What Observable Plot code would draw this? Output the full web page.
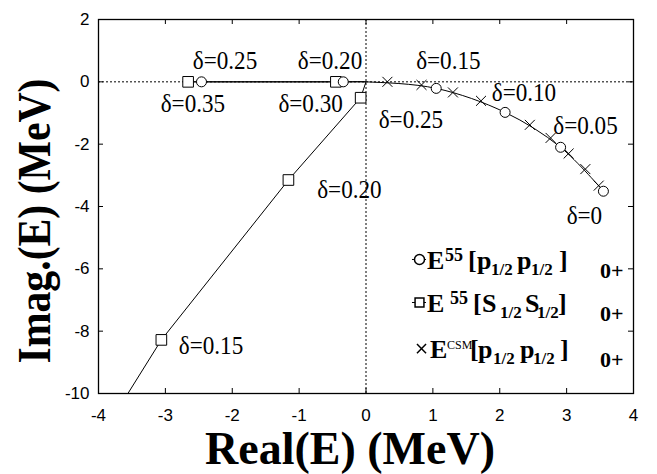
<!DOCTYPE html>
<html><head><meta charset="utf-8">
<script src="https://cdn.jsdelivr.net/npm/d3@7"></script>
<script src="https://cdn.jsdelivr.net/npm/@observablehq/plot@0.6"></script>
<style>body{margin:0;background:#fff}</style>
</head><body><div id="chart"></div>
<script>
// ---- data ----
const xTicks = [-4,-3,-2,-1,0,1,2,3,4];
const yTicks = [-10,-8,-6,-4,-2,0,2];

// E55 [p1/2 p1/2]0+ poles (circles), delta = 0.25 ... 0
const pDelta = [0.25,0.20,0.15,0.10,0.05,0];
const pRe = [-2.46,-0.34,1.05,2.08,2.91,3.55];
const pIm = [0,0,-0.21,-0.98,-2.10,-3.51];
const pLineRe = [-2.46,-0.34,0,1.05,2.08,2.91,3.55];
const pLineIm = [0,0,0,-0.21,-0.98,-2.10,-3.51];

// E55 [s1/2 s1/2]0+ poles (squares), delta = 0.35 ... 0.15
const sDelta = [0.35,0.30,0.25,0.20,0.15];
const sRe = [-2.66,-0.45,-0.08,-1.16,-3.06];
const sIm = [0,0,-0.51,-3.15,-8.28];
const sLineRe = [-2.66,-0.45,0,-0.08,-1.16,-3.06,-3.56];
const sLineIm = [0,0,0,-0.51,-3.15,-8.28,-10];

// ECSM [p1/2 p1/2]0+ (crosses)
const cRe = [0.32,0.83,1.30,1.72,2.45,2.76,3.03,3.28,3.48];
const cIm = [0,-0.10,-0.34,-0.61,-1.38,-1.80,-2.30,-2.80,-3.33];

// annotations
const labText = ["δ=0.25","δ=0.20","δ=0.35","δ=0.30","δ=0.25","δ=0.15","δ=0.10","δ=0.05","δ=0","δ=0.20","δ=0.15"];
const labRe  = [-2.59,-1.02,-3.07,-1.31,0.19,0.75,1.88,2.80,3.00,-0.73,-2.80];
const labIm  = [0.42,0.42,-0.96,-0.96,-1.47,0.42,-0.61,-1.67,-4.55,-3.72,-8.72];

// legend
const legendRe = [0.80,0.80,0.83];
const legendIm = [-5.70,-7.08,-8.56];
const legendRows = [
  [["E","main",0],["55","sup",18],["[","main",41],["p","main",50],["1/2","sub",64],["p","main",90],["1/2","sub",104],["]","main",132],["0+","sub0",173]],
  [["E","main",0],["55","sup",23],["[","main",46],["S","main",55],["1/2","sub",73],["S","main",98],["1/2","sub",110],["]","main",131],["0+","sub0",173]],
  [["E","main",0],["CSM","csm",17],["[","main",40],["p","main",48],["1/2","sub",63],["p","main",90],["1/2","sub",103],["]","main",130],["0+","sub0",170]]
];
const xLabel = "Real(E) (MeV)";
const yLabel = "Imag.(E) (MeV)";

// ---- layout ----
const W = 657, H = 474, mL = 98, mR = 24, mT = 19, mB = 81;
const innerW = W - mL - mR, innerH = H - mT - mB;
const serif = "'Liberation Serif','Times New Roman',serif";

const pts = (xs, ys) => xs.map((x, i) => ({x, y: ys[i]}));
const inner = xTicks.filter(t => t > -4 && t < 4);
const innerY = yTicks.filter(t => t > -10 && t < 2);
const fmt = d => String(d);

const plot = Plot.plot({
  width: W, height: H,
  marginLeft: mL, marginRight: mR, marginTop: mT, marginBottom: mB,
  style: {fontFamily: "'Liberation Sans',Arial,sans-serif", fontSize: "17px", color: "black", background: "white", overflow: "visible"},
  x: {domain: [-4, 4], label: null},
  y: {domain: [-10, 2], label: null},
  marks: [
    Plot.ruleY([0], {stroke: "black", strokeWidth: 1, strokeDasharray: "2,2"}),
    Plot.ruleX([0], {stroke: "black", strokeWidth: 1, strokeDasharray: "2,2"}),
    Plot.line(pts(sLineRe, sLineIm), {x: "x", y: "y", stroke: "black", strokeWidth: 1, clip: true}),
    Plot.line(pts(pLineRe, pLineIm), {x: "x", y: "y", stroke: "black", strokeWidth: 1, curve: "catmull-rom"}),
    Plot.dot(pts(cRe, cIm), {x: "x", y: "y", symbol: "times", r: 4.6, stroke: "black", strokeWidth: 1}),
    Plot.dot(pts(sRe, sIm), {x: "x", y: "y", symbol: "square", r: 6, stroke: "black", fill: "white", strokeWidth: 1}),
    Plot.dot(pts(pRe, pIm), {x: "x", y: "y", symbol: "circle", r: 5, stroke: "black", fill: "white", strokeWidth: 1}),
    Plot.text(labText.map((t, i) => ({t, x: labRe[i], y: labIm[i]})), {
      x: "x", y: "y", text: "t", textAnchor: "start", lineAnchor: "bottom",
      fontSize: 26, fill: "black"
    }),
    // legend symbols
    Plot.ruleY([0, 1].map(i => ({y: legendIm[i], x1: legendRe[i] - 0.105, x2: legendRe[i] + 0.105})), {y: "y", x1: "x1", x2: "x2", stroke: "black", strokeWidth: 1}),
    Plot.dot([{x: legendRe[0], y: legendIm[0]}], {x: "x", y: "y", symbol: "circle", r: 5, stroke: "black", fill: "white"}),
    Plot.dot([{x: legendRe[1], y: legendIm[1]}], {x: "x", y: "y", symbol: "square", r: 5, stroke: "black", fill: "white"}),
    Plot.dot([{x: legendRe[2], y: legendIm[2]}], {x: "x", y: "y", symbol: "times", r: 4.2, stroke: "black"}),
    Plot.frame({stroke: "black", strokeWidth: 1.3}),
    // inward ticks on all four sides
    Plot.tickX(inner, {x: d => d, insetTop: innerH - 5, stroke: "black"}),
    Plot.tickX(inner, {x: d => d, insetBottom: innerH - 5, stroke: "black"}),
    Plot.tickY(innerY, {y: d => d, insetRight: innerW - 5, stroke: "black"}),
    Plot.tickY(innerY, {y: d => d, insetLeft: innerW - 5, stroke: "black"}),
    Plot.axisX(xTicks, {tickSize: 0, tickPadding: 15, label: null, fontSize: 17, tickFormat: fmt}),
    Plot.axisY(yTicks, {tickSize: 0, tickPadding: 9, label: null, fontSize: 17, tickFormat: fmt})
  ]
});

document.getElementById("chart").appendChild(plot);

const svg = d3.select(plot);
// serif face, slightly condensed, for the delta annotations
svg.selectAll("text").filter(function() { return this.textContent.startsWith("δ"); })
  .style("font-family", serif).style("font-size", "26px")
  .each(function() {
    const w = this.getComputedTextLength();
    if (w > 0) d3.select(this).attr("textLength", w * 0.89).attr("lengthAdjust", "spacingAndGlyphs");
  });

// ---- legend text & axis titles ----
const sx = plot.scale("x"), sy = plot.scale("y");
const roles = {
  main: {size: 26, dy: 0, weight: "bold"},
  sup: {size: 18, dy: -8, weight: "bold"},
  sub: {size: 17, dy: 6, weight: "bold"},
  sub0: {size: 22, dy: 9, weight: "bold"},
  csm: {size: 12, dy: -9, weight: "normal"}
};
legendRows.forEach((row, i) => {
  const x0 = sx.apply(legendRe[i]) + (i === 2 ? 9 : 8);
  const y0 = sy.apply(legendIm[i]) + 10;
  const t = svg.append("text").attr("text-anchor", "start")
    .style("font-family", serif).style("fill", "black");
  row.forEach(([s, role, dx]) => {
    const r = roles[role];
    t.append("tspan").attr("x", x0 + dx).attr("y", y0 + r.dy).attr("text-anchor", "start")
      .style("font-size", r.size + "px").style("font-weight", r.weight).text(s);
  });
});

svg.append("text").text(xLabel)
  .attr("x", 350).attr("y", 464).attr("text-anchor", "middle")
  .attr("textLength", 290).attr("lengthAdjust", "spacingAndGlyphs")
  .style("font-family", serif).style("font-weight", "bold").style("font-size", "46px").style("fill", "black");

svg.append("text").text(yLabel)
  .attr("transform", "translate(50,221) rotate(-90)").attr("text-anchor", "middle")
  .attr("textLength", 285).attr("lengthAdjust", "spacingAndGlyphs")
  .style("font-family", serif).style("font-weight", "bold").style("font-size", "46px").style("fill", "black");
</script>
</body></html>
